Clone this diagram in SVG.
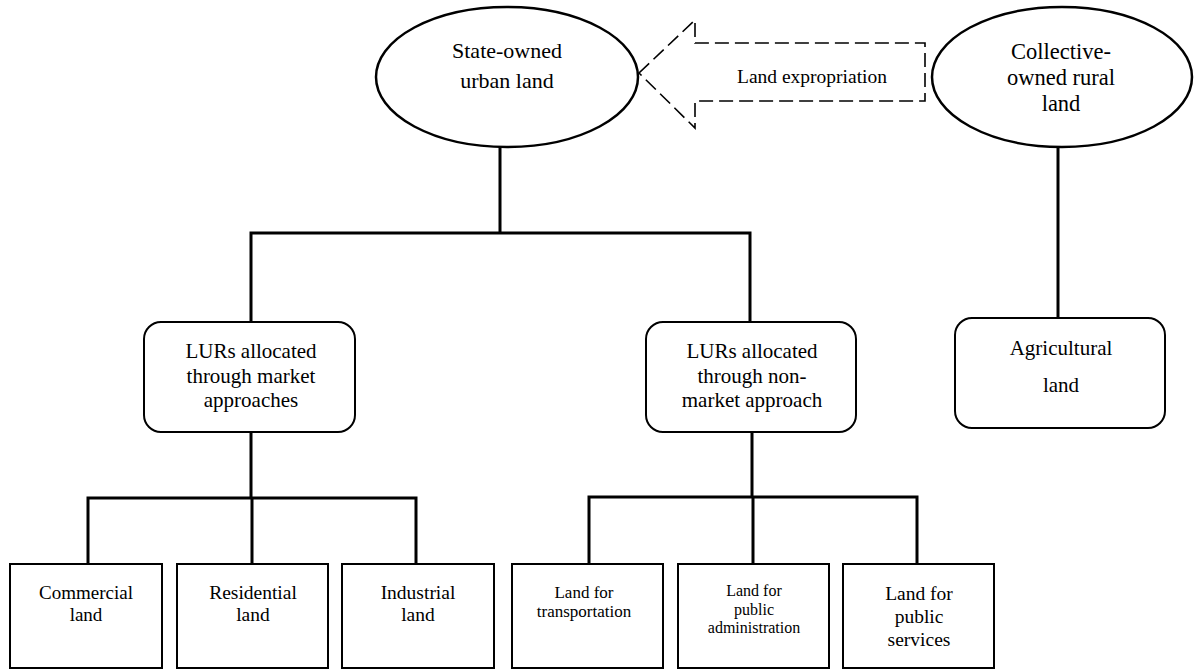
<svg xmlns="http://www.w3.org/2000/svg" width="1200" height="671" viewBox="0 0 1200 671" font-family="'Liberation Serif', 'Times New Roman', serif">
  <style>
    .bg { fill: #ffffff; }
    .oval { fill: #ffffff; stroke: #000000; stroke-width: 2.5; }
    .rbox { fill: #ffffff; stroke: #000000; stroke-width: 2; }
    .box { fill: #ffffff; stroke: #000000; stroke-width: 2; }
    .wire { fill: none; stroke: #000000; stroke-width: 3; stroke-linecap: square; }
    .dash { fill: none; stroke: #000000; stroke-width: 1.6; stroke-dasharray: 14 6; }
    text { font-family: "Liberation Serif", "Times New Roman", serif; fill: #000000; text-anchor: middle; }
  </style>

  <rect class="bg" x="0" y="0" width="1200" height="671"/>

  <!-- connectors -->
  <g id="connectors">
    <!-- state land to the two allocation routes -->
    <path class="wire" d="M500,147 V233 M251,233 H750 M251,233 V322 M750,233 V322"/>
    <!-- market route to its three land uses -->
    <path class="wire" d="M251,432 V498 M88,498 H416 M88,498 V564 M252,498 V564 M416,498 V564"/>
    <!-- non-market route to its three land uses -->
    <path class="wire" d="M752,432 V497 M589,497 H917 M589,497 V564 M753,497 V564 M917,497 V564"/>
    <!-- rural land to agricultural land -->
    <path class="wire" d="M1058,147 V318"/>
  </g>

  <!-- expropriation arrow (rural to urban) -->
  <g id="expropriation">
    <polygon class="dash" points="639,73 695,20 695,43 925,43 925,101 695,101 695,128"/>
    <text x="812" y="83" font-size="19.5">Land expropriation</text>
  </g>

  <g id="state-land">
    <ellipse class="oval" cx="507" cy="77" rx="131" ry="70"/>
    <text x="507" y="58" font-size="22">State-owned</text>
    <text x="507" y="88" font-size="22">urban land</text>
  </g>

  <g id="collective-land">
    <ellipse class="oval" cx="1062" cy="77" rx="130" ry="70"/>
    <text x="1061" y="59" font-size="22.5">Collective-</text>
    <text x="1061" y="85" font-size="22.5">owned rural</text>
    <text x="1061" y="111" font-size="22.5">land</text>
  </g>

  <g id="market">
    <rect class="rbox" x="144" y="322" width="211" height="110" rx="17" ry="17"/>
    <text x="251" y="358" font-size="21">LURs allocated</text>
    <text x="251" y="383" font-size="21">through market</text>
    <text x="251" y="407" font-size="21">approaches</text>
  </g>

  <g id="non-market">
    <rect class="rbox" x="646" y="322" width="210" height="110" rx="17" ry="17"/>
    <text x="752" y="358" font-size="21">LURs allocated</text>
    <text x="752" y="383" font-size="21">through non-</text>
    <text x="752" y="407" font-size="21">market approach</text>
  </g>

  <g id="agricultural">
    <rect class="rbox" x="955" y="318" width="210" height="110" rx="17" ry="17"/>
    <text x="1061" y="355" font-size="21">Agricultural</text>
    <text x="1061" y="392" font-size="21">land</text>
  </g>

  <g id="commercial">
    <rect class="box" x="10" y="564" width="152" height="104"/>
    <text x="86" y="599" font-size="19">Commercial</text>
    <text x="86" y="621" font-size="19">land</text>
  </g>

  <g id="residential">
    <rect class="box" x="177" y="564" width="151" height="104"/>
    <text x="253" y="599" font-size="19.5">Residential</text>
    <text x="253" y="621" font-size="19.5">land</text>
  </g>

  <g id="industrial">
    <rect class="box" x="342" y="564" width="152" height="104"/>
    <text x="418" y="599" font-size="19.5">Industrial</text>
    <text x="418" y="621" font-size="19.5">land</text>
  </g>

  <g id="transportation">
    <rect class="box" x="512" y="564" width="151" height="104"/>
    <text x="584" y="598" font-size="17">Land for</text>
    <text x="584" y="617" font-size="17">transportation</text>
  </g>

  <g id="administration">
    <rect class="box" x="678" y="564" width="151" height="104"/>
    <text x="754" y="596" font-size="16">Land for</text>
    <text x="754" y="615" font-size="16">public</text>
    <text x="754" y="633" font-size="16">administration</text>
  </g>

  <g id="public-services">
    <rect class="box" x="843" y="564" width="151" height="104"/>
    <text x="919" y="600" font-size="19.5">Land for</text>
    <text x="919" y="623" font-size="19.5">public</text>
    <text x="919" y="646" font-size="19.5">services</text>
  </g>
</svg>
